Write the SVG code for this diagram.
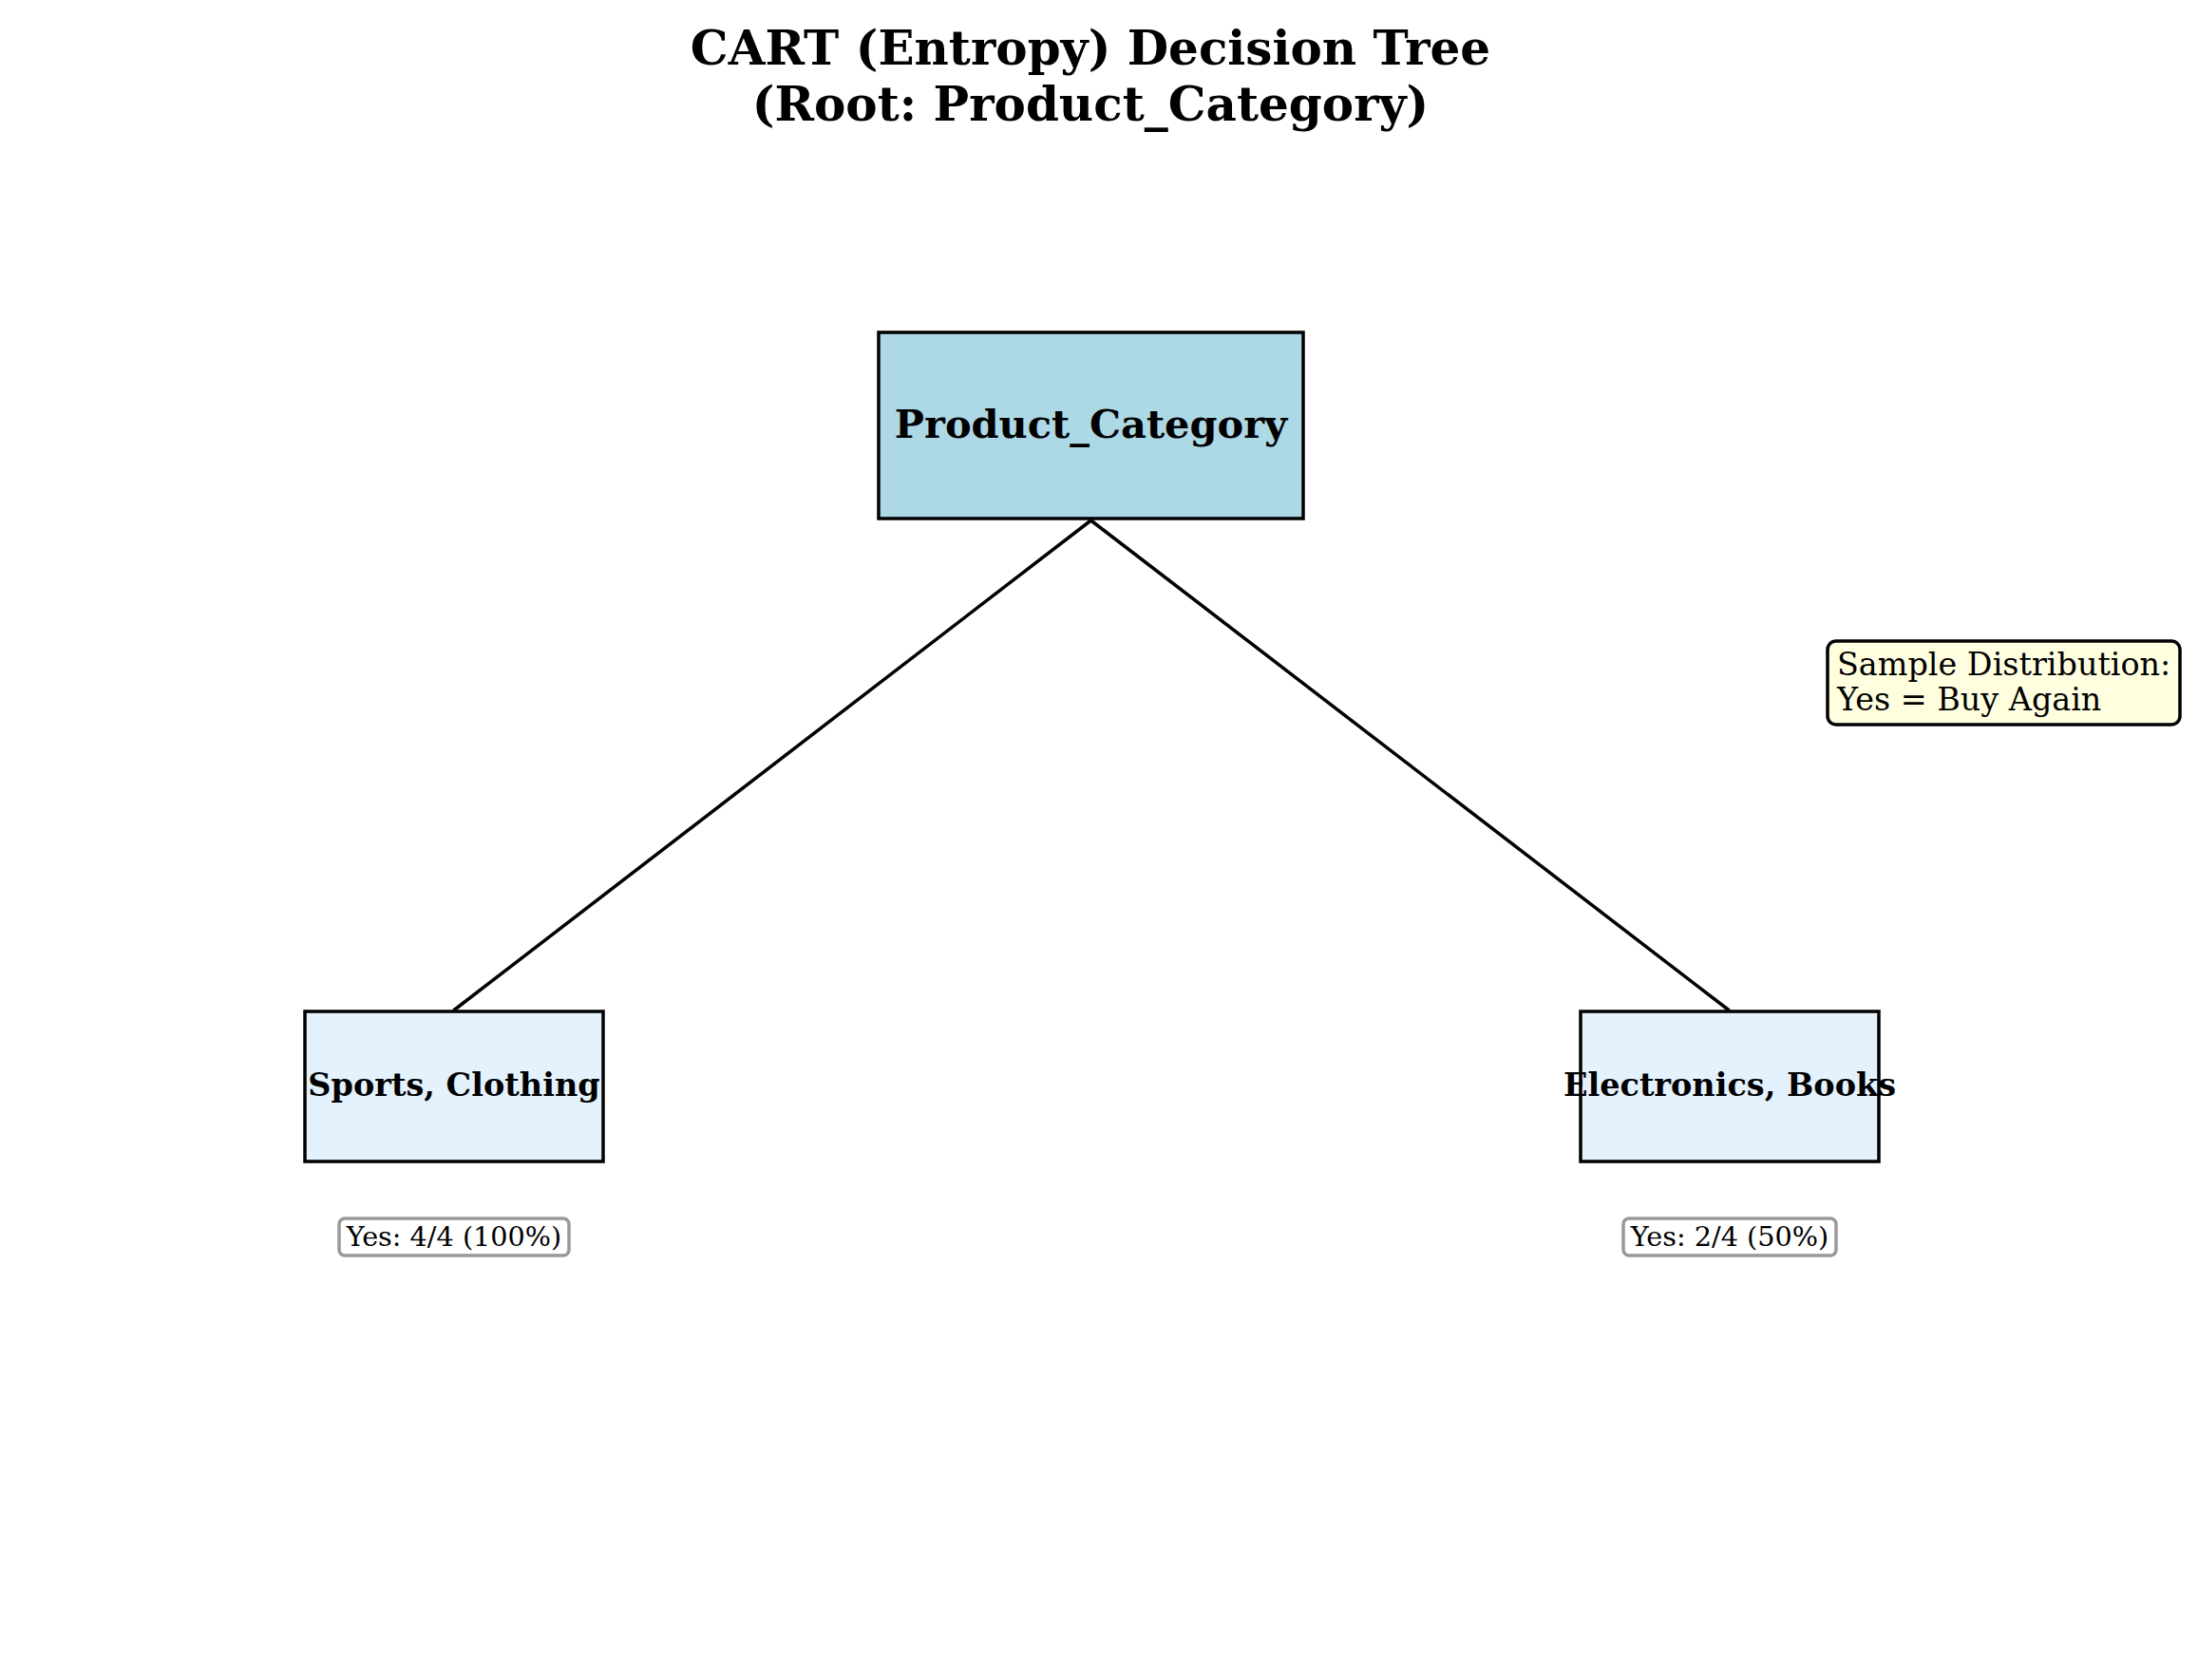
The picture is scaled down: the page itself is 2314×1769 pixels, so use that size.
<svg xmlns="http://www.w3.org/2000/svg" width="2314" height="1769" viewBox="0 0 2314 1769">
<style>
text{font-family:"DejaVu Serif","Liberation Serif",serif;fill:#000}
.title{font-size:50px;font-weight:bold;text-anchor:middle}
.node rect{stroke:#000;stroke-width:3.5}
.root rect{fill:#add8e6}
.leaf rect{fill:#e3f2fd}
.rootlabel{font-size:41.5px;font-weight:bold;text-anchor:middle}
.leaflabel{font-size:33.5px;font-weight:bold;text-anchor:middle}
.stat rect{fill:#fff;stroke:#999;stroke-width:3.5}
.stat text{font-size:28.7px;text-anchor:middle}
.edges line{stroke:#000;stroke-width:3.5}
.legend rect{fill:#ffffe0;stroke:#000;stroke-width:3.5}
.legend text{font-size:33.4px}
</style>
<rect width="2314" height="1769" fill="#fff"/>
<g id="title">
<text class="title" x="1148" y="68">CART (Entropy) Decision Tree</text>
<text class="title" x="1148" y="127">(Root: Product_Category)</text>
</g>
<g id="connectors" class="edges">
<line x1="1148.5" y1="548" x2="477.5" y2="1064"/>
<line x1="1148.5" y1="548" x2="1820.5" y2="1064"/>
</g>
<g id="root" class="node root">
<rect x="925" y="350" width="447" height="196"/>
<text class="rootlabel" x="1148.5" y="461">Product_Category</text>
</g>
<g id="left" class="node leaf">
<rect x="321" y="1065" width="314" height="158"/>
<text class="leaflabel" x="478" y="1154">Sports, Clothing</text>
</g>
<g id="left-stat" class="stat">
<rect x="357" y="1283" width="242" height="39" rx="6"/>
<text x="478" y="1312">Yes: 4/4 (100%)</text>
</g>
<g id="right" class="node leaf">
<rect x="1664" y="1065" width="314" height="158"/>
<text class="leaflabel" x="1821" y="1154">Electronics, Books</text>
</g>
<g id="right-stat" class="stat">
<rect x="1709" y="1283" width="224" height="39" rx="6"/>
<text x="1821" y="1312">Yes: 2/4 (50%)</text>
</g>
<g id="legend" class="legend">
<rect x="1924" y="675" width="371" height="88" rx="9"/>
<text x="1934" y="711">Sample Distribution:</text>
<text x="1934" y="748">Yes = Buy Again</text>
</g>
</svg>
